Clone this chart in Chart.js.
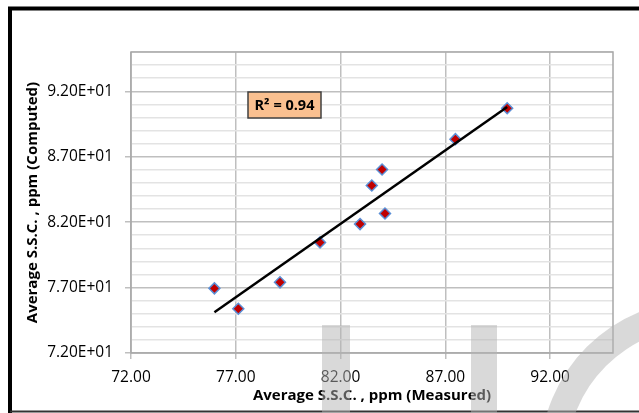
<!DOCTYPE html>
<html>
<head>
<meta charset="utf-8">
<script src="https://cdn.jsdelivr.net/npm/chart.js@4.4.1/dist/chart.umd.min.js"></script>
<style>
  html, body { margin: 0; padding: 0; background: #fff; }
  #wrap { width: 639px; height: 413px; position: relative; }
</style>
</head>
<body>
<div id="wrap"><canvas id="sscChart"></canvas></div>
<script>
// Average S.S.C. (ppm): measured vs computed
const measured = [75.98, 77.12, 79.11, 81.02, 82.93, 83.49, 83.98, 84.12, 87.48, 89.95];
const computed = [76.94, 75.38, 77.40, 80.45, 81.85, 84.80, 86.02, 82.66, 88.34, 90.70];

// axis ticks (labelled ones) and range
const xTicks = [72, 77, 82, 87, 92];
const yTicks = [72, 77, 82, 87, 92];
const axisMin = 72;
const axisMax = 95;

const r2Label = 'R\u00B2 = 0.94';

// least squares line through the points, like Excel's linear trendline
function linearFit(xs, ys) {
  const n = xs.length;
  const mx = xs.reduce((a, b) => a + b, 0) / n;
  const my = ys.reduce((a, b) => a + b, 0) / n;
  let sxy = 0, sxx = 0;
  for (let i = 0; i < n; i++) {
    sxy += (xs[i] - mx) * (ys[i] - my);
    sxx += (xs[i] - mx) * (xs[i] - mx);
  }
  const slope = sxy / sxx;
  return x => my + slope * (x - mx);
}

function sci(v) {
  const exp = Math.floor(Math.log10(Math.abs(v)));
  const mant = v / Math.pow(10, exp);
  return mant.toFixed(2) + 'E' + (exp >= 0 ? '+' : '-') + String(Math.abs(exp)).padStart(2, '0');
}

document.addEventListener('DOMContentLoaded', function() {
  const ctx = document.getElementById('sscChart').getContext('2d');

  const fit = linearFit(measured, computed);
  const xLo = Math.min(...measured);
  const xHi = Math.max(...measured);
  const trend = [{ x: xLo, y: fit(xLo) }, { x: xHi, y: fit(xHi) }];
  const points = measured.map((m, i) => ({ x: m, y: computed[i] }));

  Chart.defaults.font.family = '"Open Sans", sans-serif';
  Chart.defaults.color = '#000';

  // outer frame, plot border, R² box and the scan watermark
  const decorations = {
    id: 'decorations',
    beforeDraw(chart) {
      const c = chart.ctx;
      c.save();
      c.fillStyle = '#fff';
      c.fillRect(0, 0, chart.width, chart.height);
      c.strokeStyle = '#000';
      c.lineWidth = 4;
      c.beginPath();
      c.moveTo(10, 413);
      c.lineTo(10, 8.5);
      c.lineTo(chart.width, 8.5);
      c.stroke();
      c.strokeStyle = '#333';
      c.lineWidth = 2;
      c.beginPath();
      c.moveTo(10, 411.5);
      c.lineTo(chart.width, 411.5);
      c.stroke();
      c.restore();
    },
    beforeDatasetsDraw(chart) {
      const a = chart.chartArea;
      const c = chart.ctx;
      c.save();
      c.strokeStyle = '#a6a6a6';
      c.lineWidth = 1.5;
      c.strokeRect(a.left, a.top, a.right - a.left, a.bottom - a.top);
      c.restore();
    },
    afterDraw(chart) {
      const a = chart.chartArea;
      const c = chart.ctx;
      c.save();
      // R² label box
      const bx = a.left + 117, by = a.top + 40, bw = 73, bh = 26;
      c.fillStyle = '#fac090';
      c.fillRect(bx, by, bw, bh);
      c.strokeStyle = '#404040';
      c.lineWidth = 1.5;
      c.strokeRect(bx, by, bw, bh);
      c.fillStyle = '#000';
      c.font = 'bold 14.5px "Open Sans", sans-serif';
      c.textAlign = 'center';
      c.textBaseline = 'middle';
      c.fillText(r2Label, bx + bw / 2, by + bh / 2 + 1);
      // faint watermark from the scanned page
      c.fillStyle = 'rgba(180,180,180,0.5)';
      c.fillRect(322, 325, 28, 90);
      c.fillRect(471, 325, 26, 90);
      c.beginPath();
      c.arc(700, 460, 160, Math.PI, 1.5 * Math.PI);
      c.arc(700, 460, 133, 1.5 * Math.PI, Math.PI, true);
      c.closePath();
      c.fill();
      c.restore();
    }
  };

  const config = {
    type: 'scatter',
    data: {
      datasets: [
        {
          label: 'Trend',
          data: trend,
          showLine: true,
          borderColor: '#000',
          borderWidth: 2.5,
          pointRadius: 0,
          order: 0
        },
        {
          label: 'Average S.S.C.',
          data: points,
          pointStyle: 'rectRot',
          pointRadius: 5.5,
          backgroundColor: '#c00000',
          borderColor: '#5b8fd6',
          borderWidth: 1.5,
          order: 1
        }
      ]
    },
    options: {
      responsive: true,
      maintainAspectRatio: false,
      animation: false,
      layout: {
        padding: { left: 16, top: 52, right: 26, bottom: 0 }
      },
      plugins: {
        legend: { display: false },
        tooltip: { enabled: false }
      },
      scales: {
        x: {
          type: 'linear',
          min: axisMin,
          max: axisMax,
          afterBuildTicks: s => { s.ticks = xTicks.map(v => ({ value: v })); },
          afterFit: s => { s.height = 60; },
          border: { display: false },
          grid: {
            color: '#bfbfbf',
            tickColor: '#bfbfbf',
            lineWidth: 1.5,
            tickLength: 6
          },
          ticks: {
            autoSkip: false,
            maxRotation: 0,
            padding: 9,
            font: { size: 15.5 },
            callback: v => v.toFixed(2)
          },
          title: {
            display: true,
            text: 'Average S.S.C. , ppm (Measured)',
            font: { size: 15, weight: 'bold' },
            padding: { top: 0, bottom: 8 }
          }
        },
        y: {
          type: 'linear',
          min: axisMin,
          max: axisMax,
          afterBuildTicks: s => {
            const t = [];
            for (let v = axisMin; v <= axisMax; v++) t.push({ value: v });
            s.ticks = t;
          },
          afterFit: s => { s.width = 115; },
          border: { display: false },
          grid: {
            color: c => yTicks.includes(c.tick.value) ? '#bfbfbf' : '#e3e3e3',
            tickColor: c => yTicks.includes(c.tick.value) ? '#bfbfbf' : 'rgba(0,0,0,0)',
            lineWidth: 1.5,
            tickLength: 6
          },
          ticks: {
            autoSkip: false,
            padding: 12,
            font: { size: 15.5 },
            callback: v => yTicks.includes(v) ? sci(v) : ''
          },
          title: {
            display: true,
            text: 'Average S.S.C. , ppm (Computed)',
            font: { size: 15, weight: 'bold' },
            padding: { top: 8, bottom: 0 }
          }
        }
      }
    },
    plugins: [decorations]
  };

  new Chart(ctx, config);
});
</script>
</body>
</html>
